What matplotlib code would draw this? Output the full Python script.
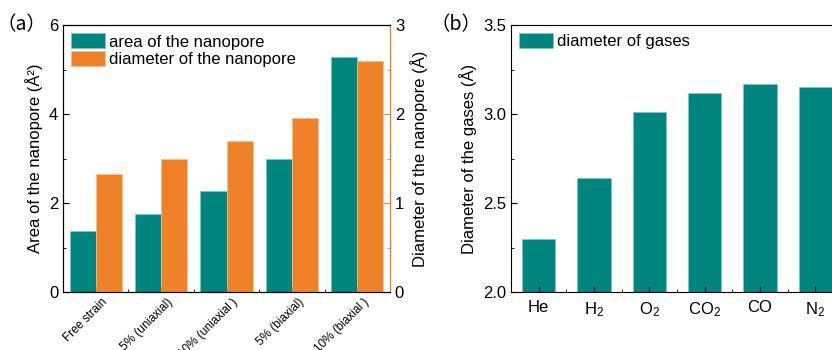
import matplotlib
matplotlib.use("Agg")
import matplotlib.pyplot as plt
import matplotlib.transforms as mtransforms
import numpy as np
from matplotlib.ticker import MultipleLocator, FormatStrFormatter

plt.rcParams['font.family'] = ['Liberation Sans', 'DejaVu Sans']
plt.rcParams['mathtext.fontset'] = 'custom'
plt.rcParams['mathtext.rm'] = 'Liberation Sans'
plt.rcParams['mathtext.it'] = 'Liberation Sans:italic'

# panel (a) data
strains = ["Free strain", "5% (uniaxial)", "10% (uniaxial )", "5% (biaxial)", "10% (biaxial )"]
area = [1.38, 1.75, 2.28, 3.0, 5.29]
pore_diam = [1.33, 1.49, 1.70, 1.955, 2.59]

# panel (b) data
gases = ["He", "H$_2$", "O$_2$", "CO$_2$", "CO", "N$_2$"]
gas_diam = [2.30, 2.64, 3.01, 3.12, 3.17, 3.15]

teal = "#00857f"
orange = "#ef8228"

fig = plt.figure(figsize=(8.32, 3.5), dpi=100)
W, H = 832, 350

def px(l, t, r, b):
    return [l / W, 1 - b / H, (r - l) / W, (b - t) / H]

leg_kw = dict(loc="upper left", frameon=False, fontsize=12, handlelength=2.0,
              handleheight=1.0, handletextpad=0.25, labelspacing=0.1,
              borderaxespad=0.2, borderpad=0.3)

# ---- panel (a) ----
ax1 = fig.add_axes(px(63, 25, 390, 292))
x = np.arange(len(strains))
bw = 0.4
ax1.bar(x - bw / 2, area, bw, color=teal, edgecolor="#7fc7c3", linewidth=0.5, label="area of the nanopore")
ax1.set_ylim(0, 6)
ax1.set_xlim(-0.5, len(strains) - 0.5)
ax1.yaxis.set_major_locator(MultipleLocator(2))
ax1.yaxis.set_minor_locator(MultipleLocator(1))
ax1.set_xticks(x)
ax1.set_xticks(x[:-1] + 0.5, minor=True)
ax1.tick_params(which="both", direction="in", labelsize=12)
ax1.tick_params(axis="x", labelsize=8.5, pad=6)
ax1.tick_params(which="major", length=4)
ax1.tick_params(which="minor", length=2.5)
ax1.set_xticklabels(strains, rotation=45, ha="right", va="center", rotation_mode="anchor", fontsize=8.5)
# nudge rotated labels to the right, like the original
shift = mtransforms.ScaledTranslation(10 / 100, 0, fig.dpi_scale_trans)
for lab in ax1.get_xticklabels():
    lab.set_transform(lab.get_transform() + shift)
ax1.set_ylabel("Area of the nanopore (Å²)", fontsize=12)

ax2 = ax1.twinx()
ax2.bar(x + bw / 2, pore_diam, bw, color=orange, edgecolor="#f7c08f", linewidth=0.5, label="diameter of the nanopore")
ax2.set_ylim(0, 3)
ax2.yaxis.set_major_locator(MultipleLocator(1))
ax2.yaxis.set_minor_locator(MultipleLocator(0.5))
ax2.tick_params(which="both", direction="in", colors=orange, labelcolor="black", labelsize=12)
ax2.tick_params(which="major", length=4)
ax2.tick_params(which="minor", length=2.5)
ax2.spines["right"].set_color(orange)
ax2.set_ylabel("Diameter of the nanopore (Å)", fontsize=12)

h1, l1 = ax1.get_legend_handles_labels()
h2, l2 = ax2.get_legend_handles_labels()
ax2.legend(h1 + h2, l1 + l2, **leg_kw)

fig.text(-4 / W, 1 - 25 / H, "（a）", fontsize=14, family=['Noto Sans CJK SC', 'DejaVu Sans'], va="center")

# ---- panel (b) ----
ax3 = fig.add_axes(px(511, 25, 843, 292))
xg = np.arange(len(gases))
ax3.bar(xg, gas_diam, 0.6, color=teal, edgecolor="#7fc7c3", linewidth=0.5, label="diameter of gases")
ax3.set_ylim(2.0, 3.5)
ax3.set_xlim(-0.5, len(gases) - 0.5)
ax3.yaxis.set_major_locator(MultipleLocator(0.5))
ax3.yaxis.set_minor_locator(MultipleLocator(0.25))
ax3.yaxis.set_major_formatter(FormatStrFormatter("%.1f"))
ax3.set_xticks(xg)
ax3.set_xticklabels(gases)
ax3.set_xticks(xg[:-1] + 0.5, minor=True)
ax3.tick_params(which="both", direction="in", labelsize=12)
ax3.tick_params(axis="x", pad=6)
ax3.tick_params(which="major", length=4)
ax3.tick_params(which="minor", length=2.5)
ax3.set_ylabel("Diameter of the gases (Å)", fontsize=12)
ax3.legend(**leg_kw)

fig.text(431 / W, 1 - 25 / H, "（b）", fontsize=14, family=['Noto Sans CJK SC', 'DejaVu Sans'], va="center")

fig.savefig("out.png", dpi=100)
